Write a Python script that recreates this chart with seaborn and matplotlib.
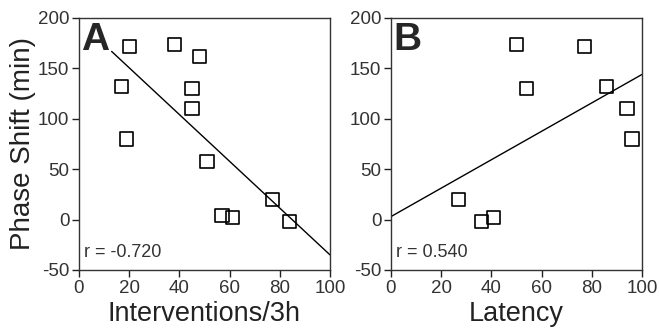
import pandas as pd
import matplotlib
matplotlib.use('Agg')
import matplotlib.pyplot as plt
import numpy as np
import seaborn as sns

sns.set_style('ticks')
plt.rcParams['font.family'] = ['Liberation Sans', 'DejaVu Sans']
plt.rcParams['axes.unicode_minus'] = False

# panel A data
interv_x = [20, 17, 19, 38, 48, 45, 45, 51, 57, 61, 77, 84]
interv_y = [172, 132, 80, 174, 162, 130, 110, 58, 4, 2, 20, -2]
fit_a = (-2.32, 197.0)   # slope, intercept
fit_a_range = (13, 100)

# panel B data
lat_x = [27, 36, 41, 50, 54, 77, 86, 94, 96]
lat_y = [20, -2, 2, 174, 130, 172, 132, 110, 80]
fit_b = (1.41, 3.0)
fit_b_range = (0, 100)

panels = [
    ('A', interv_x, interv_y, fit_a, fit_a_range, 'Interventions/3h', 'r = -0.720'),
    ('B', lat_x, lat_y, fit_b, fit_b_range, 'Latency', 'r = 0.540'),
]

fig = plt.figure(figsize=(6.59, 3.28), dpi=100)
lefts = [79, 391]
axes = [fig.add_axes([l / 659, 58 / 328, 251 / 659, 252 / 328]) for l in lefts]

for ax, (lab, xs, ys, fit, rng, xlabel, rtxt) in zip(axes, panels):
    df = pd.DataFrame({'x': xs, 'y': ys})
    sns.scatterplot(data=df, x='x', y='y', ax=ax, marker='s', s=90,
                    facecolor='none', edgecolor='black', linewidth=1.2)
    lx = np.array(rng, dtype=float)
    line = pd.DataFrame({'x': lx, 'y': fit[0] * lx + fit[1]})
    sns.lineplot(data=line, x='x', y='y', ax=ax, color='black', linewidth=1.0)
    ax.set_xlim(0, 100)
    ax.set_ylim(-50, 200)
    ax.set_xticks([0, 20, 40, 60, 80, 100])
    ax.set_yticks([-50, 0, 50, 100, 150, 200])
    ax.tick_params(labelsize=13.5, length=5, width=1, pad=2, colors='#222222', labelcolor='#333333')
    for s in ax.spines.values():
        s.set_linewidth(1.0)
        s.set_color('#333333')
    ax.set_xlabel(xlabel, fontsize=19.5, color='#222222', labelpad=3)
    ax.set_ylabel('')
    ax.text(0.01, 0.985, lab, transform=ax.transAxes, fontsize=28, fontweight='bold',
            va='top', ha='left')
    ax.text(0.02, 0.035, rtxt, transform=ax.transAxes, fontsize=13, color='#333333',
            va='bottom', ha='left')

axes[0].set_ylabel('Phase Shift (min)', fontsize=20, color='#222222', labelpad=1)

fig.savefig('out.png', dpi=100)
